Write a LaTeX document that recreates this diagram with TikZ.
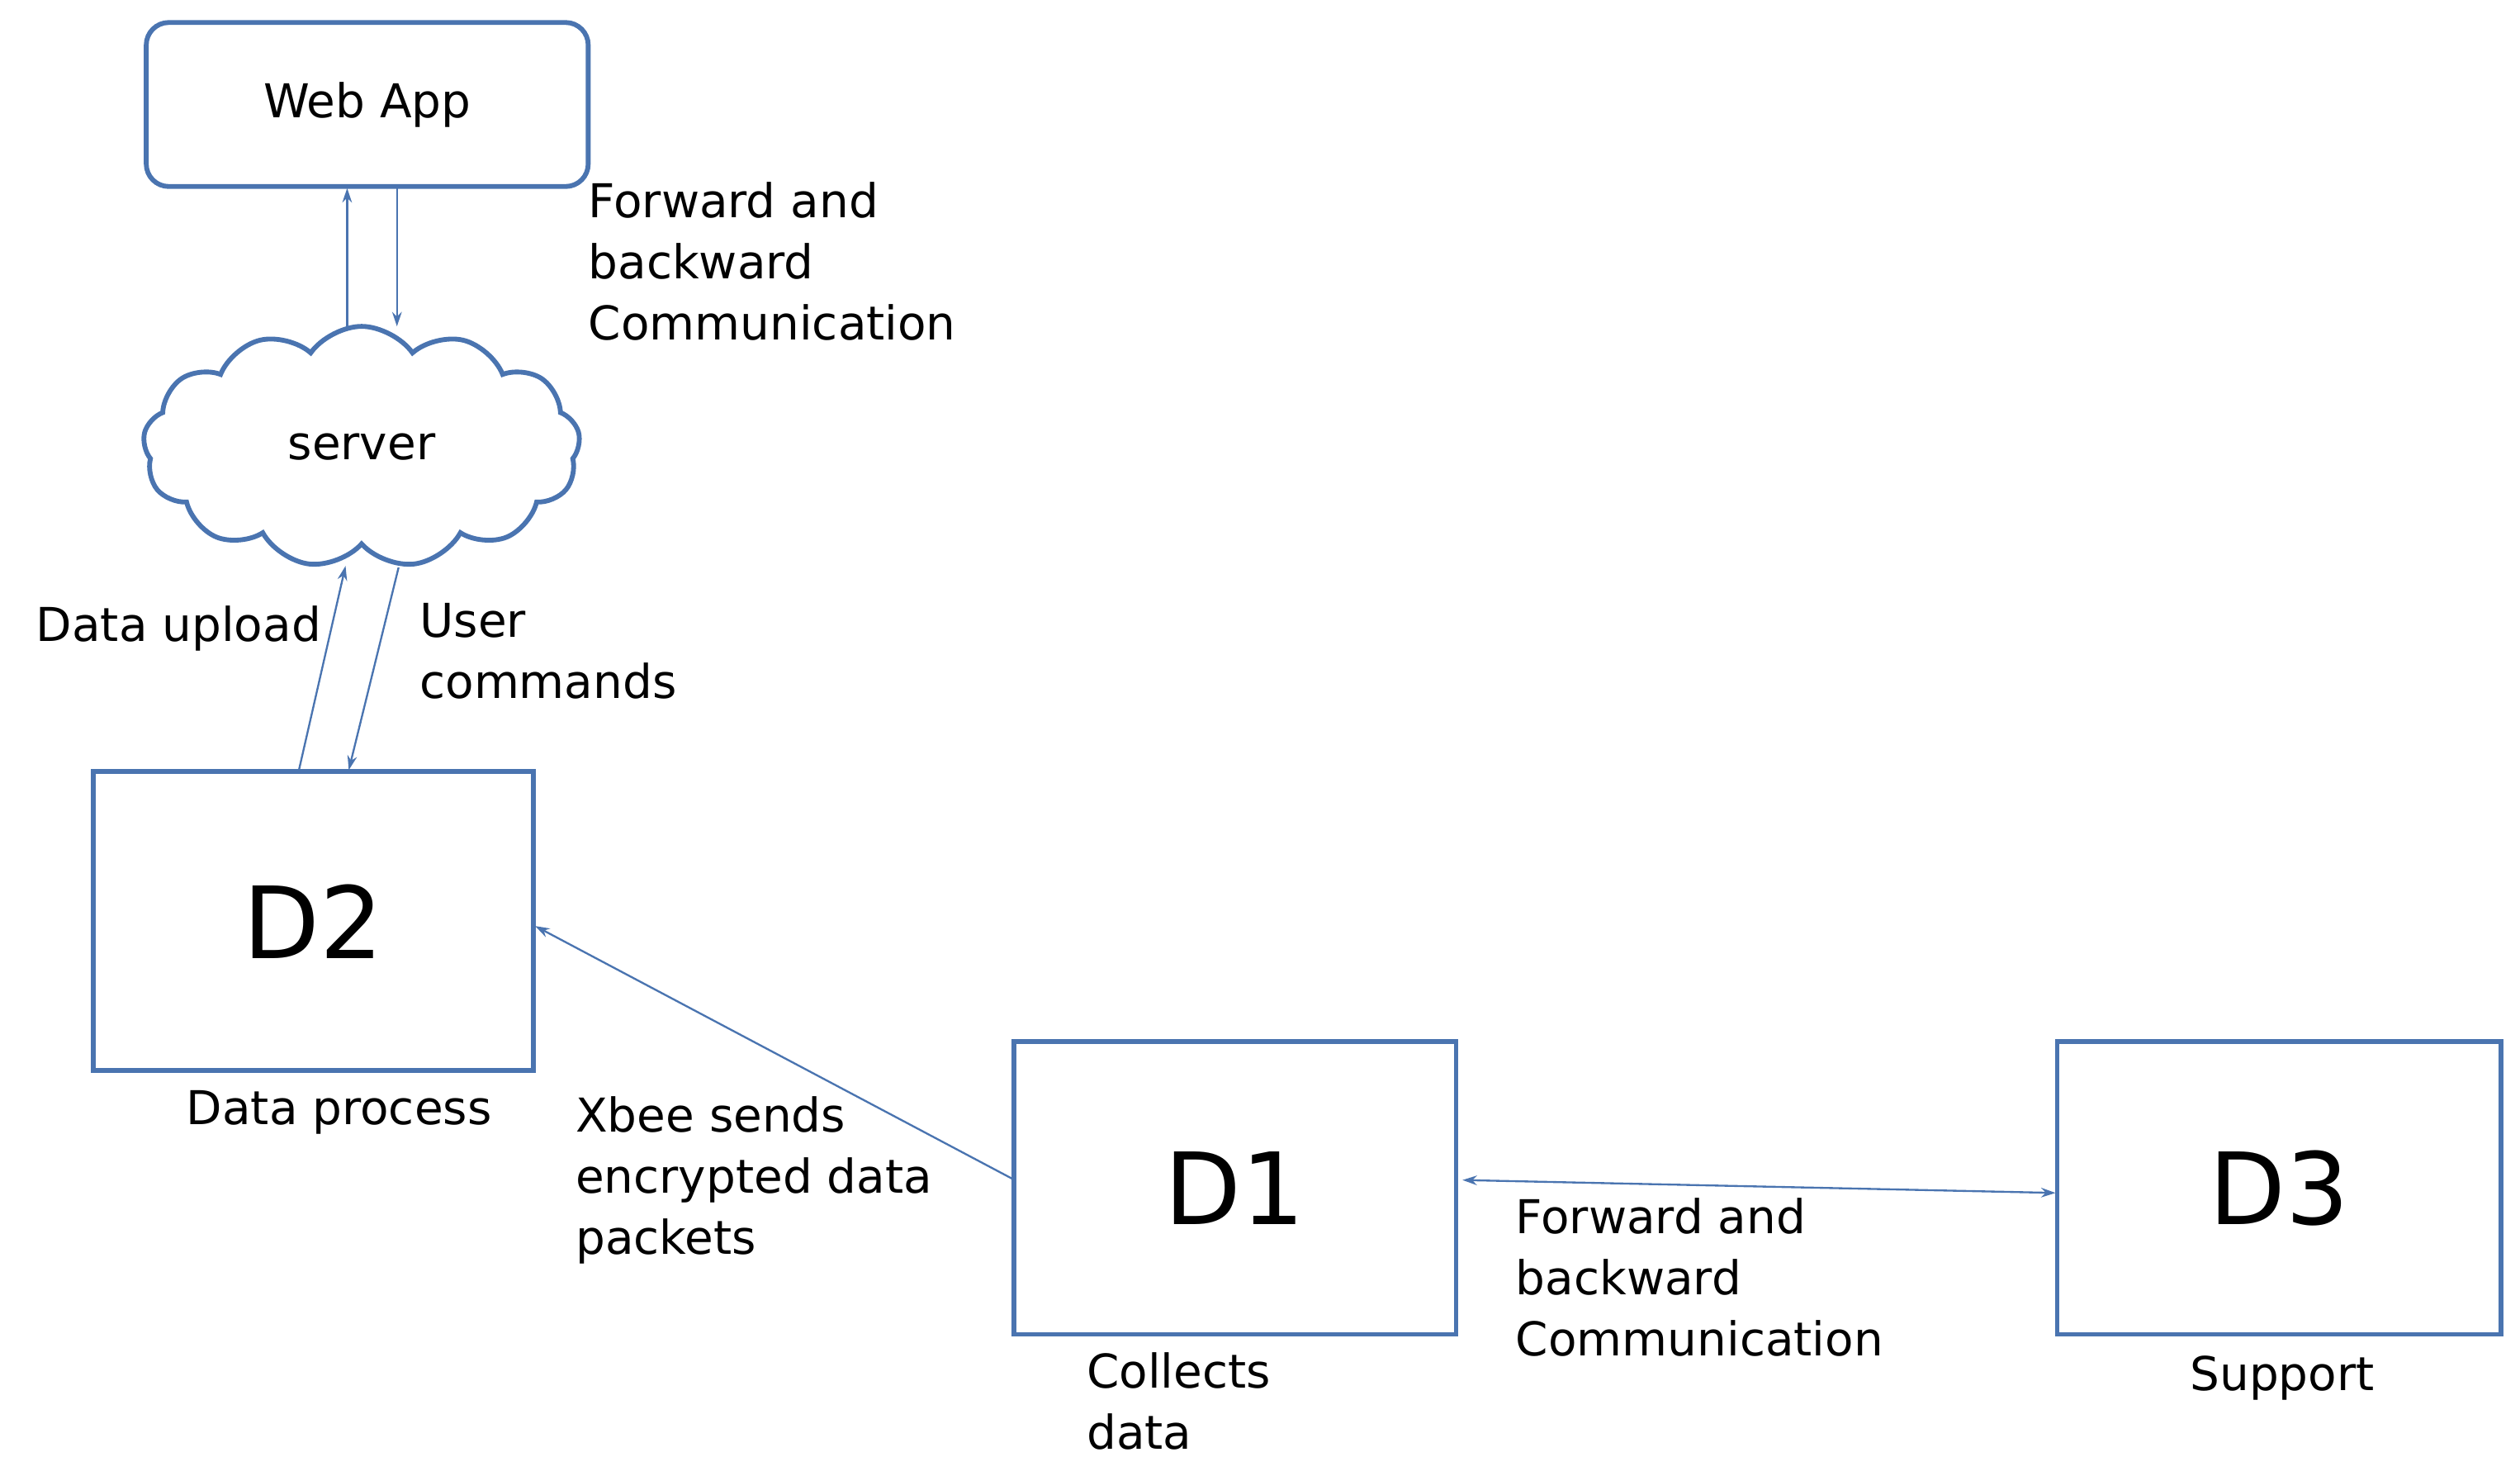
\documentclass[tikz,border=0pt]{standalone}
\usepackage{fontspec}
\setmainfont{DejaVu Sans}
\usetikzlibrary{shapes.symbols,arrows.meta}
\definecolor{bl}{HTML}{4A74B0}
\begin{document}
\begin{tikzpicture}[x=1pt,y=-1pt,
  box/.style={draw=bl,line width=3pt,inner sep=0},
  lbl/.style={font=\fontsize{29}{38}\selectfont,align=left,inner sep=0},
  big/.style={font=\fontsize{62}{70}\selectfont},
  arr/.style={draw=bl,line width=1.2pt,-{Stealth[length=9pt,width=6pt]}}]
\useasboundingbox (0,0) rectangle (1568,918);
\node[box,rounded corners=14pt,minimum width=275pt,minimum height=102pt,font=\fontsize{29}{34}\selectfont] (web) at (228.5,65) {Web App};
\node[draw=bl,line width=3pt,cloud,cloud puffs=13,cloud puff arc=110,minimum width=272pt,minimum height=150pt,aspect=2,font=\fontsize{29}{34}\selectfont] (srv) at (225,278) {server};
\node[box,minimum width=274pt,minimum height=186pt,big] (d2) at (195,573) {D2};
\node[box,minimum width=275pt,minimum height=182pt,big] (d1) at (768.5,739) {D1};
\node[box,minimum width=276pt,minimum height=182pt,big] (d3) at (1418,739) {D3};
\coordinate (a1) at (216,205); \coordinate (a2) at (216,117);
\coordinate (b1) at (247,117); \coordinate (b2) at (247,203);
\draw[arr] (a1) -- (a2);
\draw[arr] (b1) -- (b2);
\coordinate (c1) at (186,479); \coordinate (c2) at (215,352);
\coordinate (e1) at (248,353); \coordinate (e2) at (217,479);
\draw[arr] (c1) -- (c2);
\draw[arr] (e1) -- (e2);
\draw[arr] (d1.west |- 0,733) -- (333,576);
\draw[arr,{Stealth[length=9pt,width=6pt]}-{Stealth[length=9pt,width=6pt]}] (910,734) -- (1279,742);
\node[lbl,anchor=north west] (t1) at (366,113) {Forward and\\backward\\Communication};
\node[lbl,anchor=east] (t2) at (200,391) {Data upload};
\node[lbl,anchor=north west] (t3) at (261,375) {User\\commands};
\node[lbl] (t4) at (211,692) {Data process};
\node[lbl,anchor=north west] (t5) at (358,682) {Xbee sends\\encrypted data\\packets};
\node[lbl,anchor=north west] (t6) at (676,841) {Collects\\data};
\node[lbl,anchor=north west] (t7) at (943,745) {Forward and\\backward\\Communication};
\node[lbl] (t8) at (1420,857) {Support};
\end{tikzpicture}
\end{document}
